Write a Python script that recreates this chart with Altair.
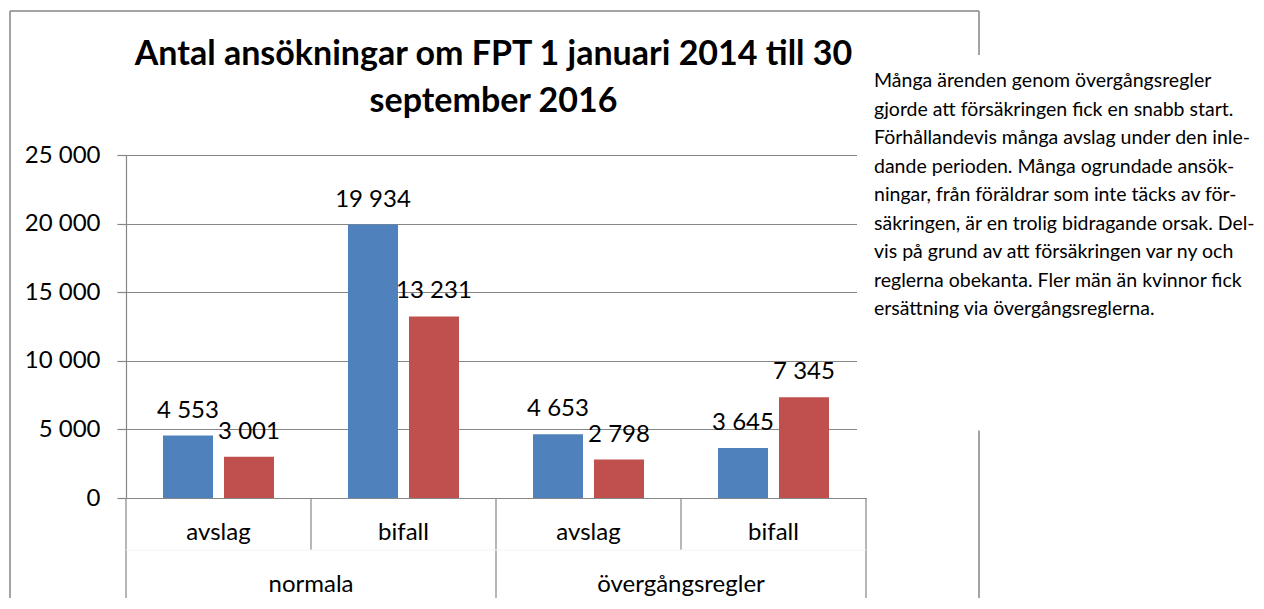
import altair as alt
import pandas as pd

# ---- data ----
groups = ["normala", "normala", "övergångsregler", "övergångsregler"]
cats = ["avslag", "bifall", "avslag", "bifall"]
series = ["kvinnor", "män"]
blue_vals = [4553, 19934, 4653, 3645]
red_vals = [3001, 13231, 2798, 7345]
colors = ["#4F81BD", "#C0504D"]
y_ticks = [0, 5000, 10000, 15000, 20000, 25000]
title_lines = ["Antal ansökningar om FPT 1 januari 2014 till 30", "september 2016"]
note_lines = [
    "Många ärenden genom övergångsregler",
    "gjorde att försäkringen fick en snabb start.",
    "Förhållandevis många avslag under den inle-",
    "dande perioden. Många ogrundade ansök-",
    "ningar, från föräldrar som inte täcks av för-",
    "säkringen, är en trolig bidragande orsak. Del-",
    "vis på grund av att försäkringen var ny och",
    "reglerna obekanta. Fler män än kvinnor fick",
    "ersättning via övergångsreglerna.",
]

GRAY = "#868686"
FONT = "Lato"

bands = [f"{g}|{c}" for g, c in zip(groups, cats)]
rows = []
for b, g, c, v1, v2 in zip(bands, groups, cats, blue_vals, red_vals):
    for s, v in zip(series, (v1, v2)):
        rows.append({"band": b, "group": g, "cat": c, "series": s, "value": v,
                     "label": f"{v:,}".replace(",", " ")})
df = pd.DataFrame(rows)
cat_df = pd.DataFrame({"band": bands, "cat": cats})

group_names = list(dict.fromkeys(groups))
group_first = [bands[groups.index(g)] for g in group_names]
group_df = pd.DataFrame({"band": group_first, "group": group_names})
inner_sep = pd.DataFrame({"band": group_first})
outer_start = pd.DataFrame({"band": group_first})
outer_end = pd.DataFrame({"band": [bands[-1]]})
one = pd.DataFrame({"k": [0]})

x_axis = alt.Axis(labels=False, ticks=False, title=None, grid=False,
                  domain=True, domainColor=GRAY, domainWidth=1.2)
x_scale = alt.Scale(domain=bands, paddingInner=0, paddingOuter=0)


def X(**kw):
    return alt.X("band:N", sort=bands, scale=x_scale, axis=x_axis, **kw)


y_enc = alt.Y(
    "value:Q",
    scale=alt.Scale(domain=[0, 25000], nice=False),
    axis=alt.Axis(values=y_ticks, title=None, tickSize=9, labelPadding=17,
                  labelExpr="replace(format(datum.value, ','), ',', ' ')",
                  grid=True, gridColor=GRAY, gridWidth=1, domainColor=GRAY,
                  domainWidth=1.2, tickColor=GRAY, tickWidth=1.2,
                  labelFont=FONT, labelFontSize=24, labelColor="black"),
)
xoff = alt.XOffset("series:N", sort=series,
                   scale=alt.Scale(domain=series, paddingInner=0.18, paddingOuter=0.6066))
color = alt.Color("series:N", scale=alt.Scale(domain=series, range=colors), legend=None)

base = alt.Chart(df)
bars = base.mark_bar().encode(x=X(), xOffset=xoff, y=y_enc, color=color)
bar_labels = base.mark_text(font=FONT, fontSize=24, baseline="alphabetic", dy=-18,
                            color="black").encode(x=X(), xOffset=xoff, y=y_enc,
                                                  text="label:N")

cat_labels = alt.Chart(cat_df).mark_text(font=FONT, fontSize=24, baseline="alphabetic",
                                         color="black").encode(
    x=X(), y=alt.value(385), text="cat:N")
group_labels = alt.Chart(group_df).mark_text(font=FONT, fontSize=24, baseline="alphabetic",
                                             color="black").encode(
    x=X(bandPosition=1), y=alt.value(437), text="group:N")

sep_inner = alt.Chart(inner_sep).mark_rule(color=GRAY, strokeWidth=1.2).encode(
    x=X(bandPosition=1), y=alt.value(343), y2=alt.value(395))
sep_start = alt.Chart(outer_start).mark_rule(color=GRAY, strokeWidth=1.2).encode(
    x=X(bandPosition=0), y=alt.value(343), y2=alt.value(446))
sep_end = alt.Chart(outer_end).mark_rule(color=GRAY, strokeWidth=1.2).encode(
    x=X(bandPosition=1), y=alt.value(343), y2=alt.value(446))
faint = alt.Chart(one).mark_rule(color="#f2f2f2", strokeWidth=1).encode(
    x=alt.value(0), x2=alt.value(740), y=alt.value(395))

frame_left = alt.Chart(one).mark_rule(color=GRAY, strokeWidth=1.5).encode(
    x=alt.value(-116), y=alt.value(-144), y2=alt.value(470))
frame_top = alt.Chart(one).mark_rule(color=GRAY, strokeWidth=1.5).encode(
    x=alt.value(-116), x2=alt.value(853), y=alt.value(-144))
frame_right = alt.Chart(one).mark_rule(color=GRAY, strokeWidth=1.5).encode(
    x=alt.value(853), y=alt.value(-144), y2=alt.value(470))

title = alt.Chart(one).mark_text(text=title_lines, font=FONT, fontWeight="bold",
                                 fontSize=34, align="center", baseline="alphabetic",
                                 lineHeight=47, color="black").encode(
    x=alt.value(367.5), y=alt.value(-90))

cover = alt.Chart(one).mark_rect(color="white", opacity=1).encode(
    x=alt.value(731), x2=alt.value(1140), y=alt.value(-100), y2=alt.value(275.5))

note = alt.Chart(one).mark_text(text=note_lines, font=FONT, fontSize=19.5, align="left",
                                baseline="alphabetic", lineHeight=28.5,
                                color="black").encode(
    x=alt.value(748), y=alt.value(-68))

chart = alt.layer(
    bars, bar_labels, cat_labels, group_labels, sep_inner, sep_start, sep_end, faint,
    frame_left, frame_top, frame_right, title, cover, note,
).properties(
    width=740, height=343,
    autosize=alt.AutoSizeParams(type="none"),
    padding={"left": 118, "top": 147, "right": 390, "bottom": 100},
    background="white",
).configure_view(stroke=None)

chart.save("out.html", embed_options={"renderer": "svg", "actions": False})
